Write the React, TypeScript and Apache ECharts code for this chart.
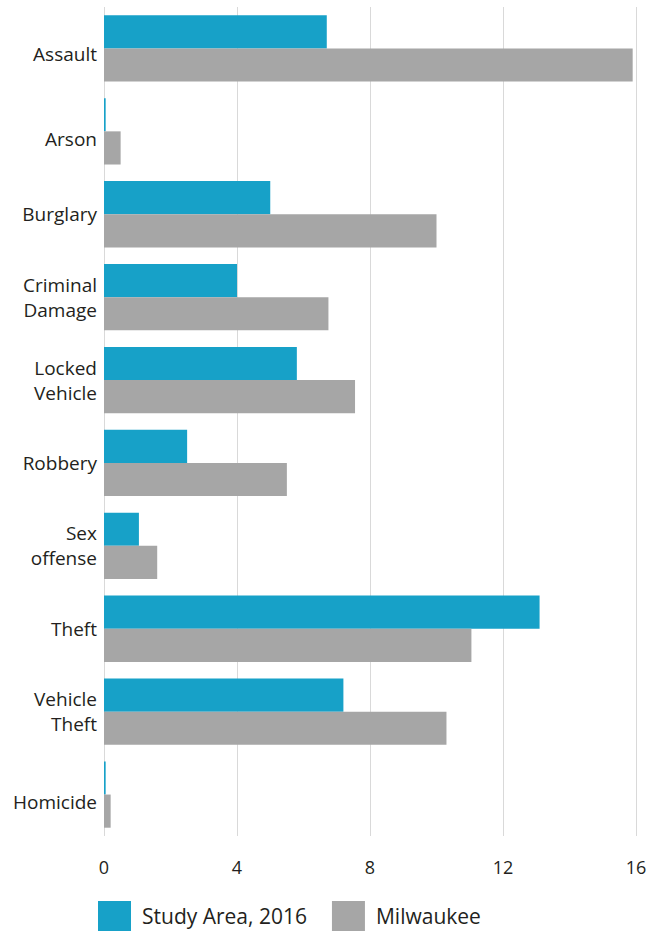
import React, { useEffect, useRef } from "react";
import * as echarts from "echarts";

const categories = [
  "Assault",
  "Arson",
  "Burglary",
  "Criminal\nDamage",
  "Locked\nVehicle",
  "Robbery",
  "Sex\noffense",
  "Theft",
  "Vehicle\nTheft",
  "Homicide",
];
const studyArea = [6.7, 0.05, 5.0, 4.0, 5.8, 2.5, 1.05, 13.1, 7.2, 0.05];
const milwaukee = [15.9, 0.5, 10.0, 6.75, 7.55, 5.5, 1.6, 11.05, 10.3, 0.2];
const seriesNames = ["Study Area, 2016", "Milwaukee"];
const xTicks = { min: 0, max: 16, interval: 4 };

const FONT = "'Open Sans', sans-serif";
const TEXT = "#231f20";

// some single-line labels sit a little below their band centre in the reference
const labelShift: Record<string, string> = { Assault: "s6", Arson: "s8", Homicide: "s7" };

export default function App() {
  const ref = useRef<HTMLDivElement>(null);
  useEffect(() => {
    if (!ref.current) return;
    const chart = echarts.init(ref.current, undefined, { renderer: "svg" });
    const base = { fontFamily: FONT, fontSize: 19, color: TEXT, lineHeight: 25 };
    chart.setOption({
      animation: false,
      textStyle: { fontFamily: FONT, color: TEXT },
      grid: { left: 104, right: 29, top: 7, height: 829, containLabel: false },
      legend: {
        data: seriesNames,
        left: 98,
        top: 901,
        padding: 0,
        icon: "rect",
        itemWidth: 33,
        itemHeight: 30,
        itemGap: 25,
        textStyle: {
          fontFamily: FONT,
          fontSize: 21,
          lineHeight: 22,
          color: TEXT,
          padding: [2, 0, 0, 6],
        },
      },
      xAxis: {
        type: "value",
        min: xTicks.min,
        max: xTicks.max,
        interval: xTicks.interval,
        axisLine: { show: false },
        axisTick: { show: false },
        splitLine: { show: true, lineStyle: { color: "#d9d9d9", width: 1 } },
        axisLabel: { fontFamily: FONT, fontSize: 18, color: TEXT, margin: 22 },
      },
      yAxis: {
        type: "category",
        data: categories,
        inverse: true,
        axisLine: { show: false },
        axisTick: { show: false },
        axisLabel: {
          ...base,
          margin: 7,
          align: "right",
          formatter: (v: string) => (labelShift[v] ? `{${labelShift[v]}|${v}}` : v),
          rich: {
            s6: { ...base, padding: [12, 0, 0, 0] },
            s7: { ...base, padding: [14, 0, 0, 0] },
            s8: { ...base, padding: [16, 0, 0, 0] },
          },
        },
      },
      series: [
        {
          name: seriesNames[0],
          type: "bar",
          data: studyArea,
          itemStyle: { color: "#17a1c8" },
          barGap: "0%",
          barCategoryGap: "20%",
        },
        {
          name: seriesNames[1],
          type: "bar",
          data: milwaukee,
          itemStyle: { color: "#a6a6a6" },
          barGap: "0%",
          barCategoryGap: "20%",
        },
      ],
    });
    return () => chart.dispose();
  }, []);
  return (
    <div
      ref={ref}
      style={{ position: "absolute", left: 0, top: 0, width: 665, height: 932 }}
    />
  );
}
